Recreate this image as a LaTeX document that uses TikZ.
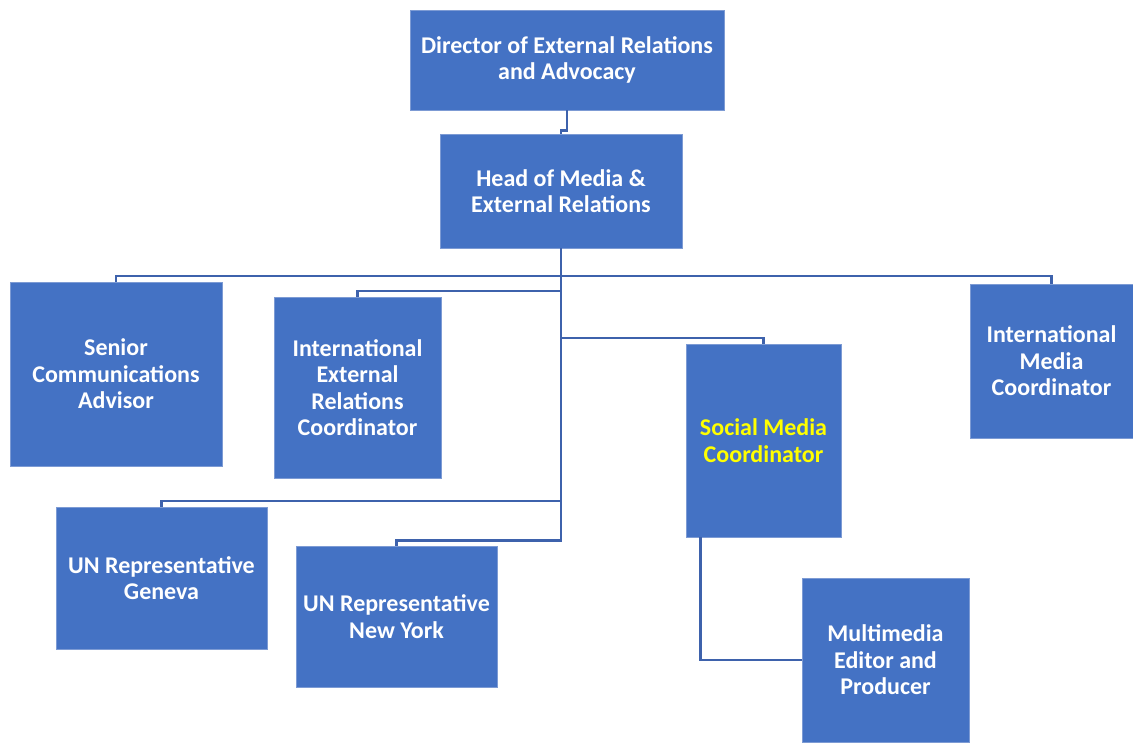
\documentclass[tikz,border=0pt]{standalone}
\usepackage{fontspec}
\setsansfont{Carlito}
\usepackage{tikz}
\usetikzlibrary{calc,positioning}
\definecolor{boxblue}{RGB}{68,114,196}
\definecolor{boxedge}{RGB}{125,155,212}
\definecolor{linkblue}{RGB}{62,98,172}
\tikzstyle{post} = [rectangle, draw=boxedge, line width=0.8pt, fill=boxblue, text=white, align=center, font=\sffamily\bfseries\fontsize{24}{26.5}\selectfont, inner sep=2pt]
\tikzstyle{link} = [draw=linkblue, line width=2.6pt]

\begin{document}
\begin{tikzpicture}[x=1pt, y=-1pt,
			highlight/.style={text={rgb,255:red,255;green,255;blue,0}}]
		\useasboundingbox (0,0) rectangle (1133,743);

		\node[post, minimum width=314pt, minimum height=100pt] (dir) at (567,60) {Director of External Relations\\and Advocacy};
		\node[post, minimum width=242pt, minimum height=114pt] (head) at (561,191) {Head of Media \&\\External Relations};
		\node[post, minimum width=212pt, minimum height=184pt] (senior) at (116,374) {Senior\\Communications\\Advisor};
		\node[post, minimum width=167pt, minimum height=181pt] (ierc) at (357.5,387.5) {International\\External\\Relations\\Coordinator};
		\node[post, minimum width=163pt, minimum height=154pt] (imc) at (1051.5,361) {International\\Media\\Coordinator};
		\node[post, highlight, minimum width=155pt, minimum height=193pt] (social) at (763.5,440.5) {Social Media\\Coordinator};
		\node[post, minimum width=211pt, minimum height=142pt] (geneva) at (161.5,578) {UN Representative\\Geneva};
		\node[post, minimum width=201pt, minimum height=141pt] (ny) at (396.5,616.5) {UN Representative\\New York};
		\node[post, minimum width=167pt, minimum height=164pt] (multi) at (885.5,660) {Multimedia\\Editor and\\Producer};

		\draw[link] (dir.south) -- ++(0,20) -| (head.north);
		\draw[link] (head.south) -- ++(0,292) -| (ny.north);
		\draw[link] (head.south |- 0,276) -| (senior.north);
		\draw[link] (head.south |- 0,276) -| (imc.north);
		\draw[link] (head.south |- 0,291) -| (ierc.north);
		\draw[link] (head.south |- 0,338) -| (social.north);
		\draw[link] (head.south |- 0,501) -| (geneva.north);
		\draw[link] ($(social.south west)+(15,0)$) |- (multi.west);
	\end{tikzpicture}
\end{document}
